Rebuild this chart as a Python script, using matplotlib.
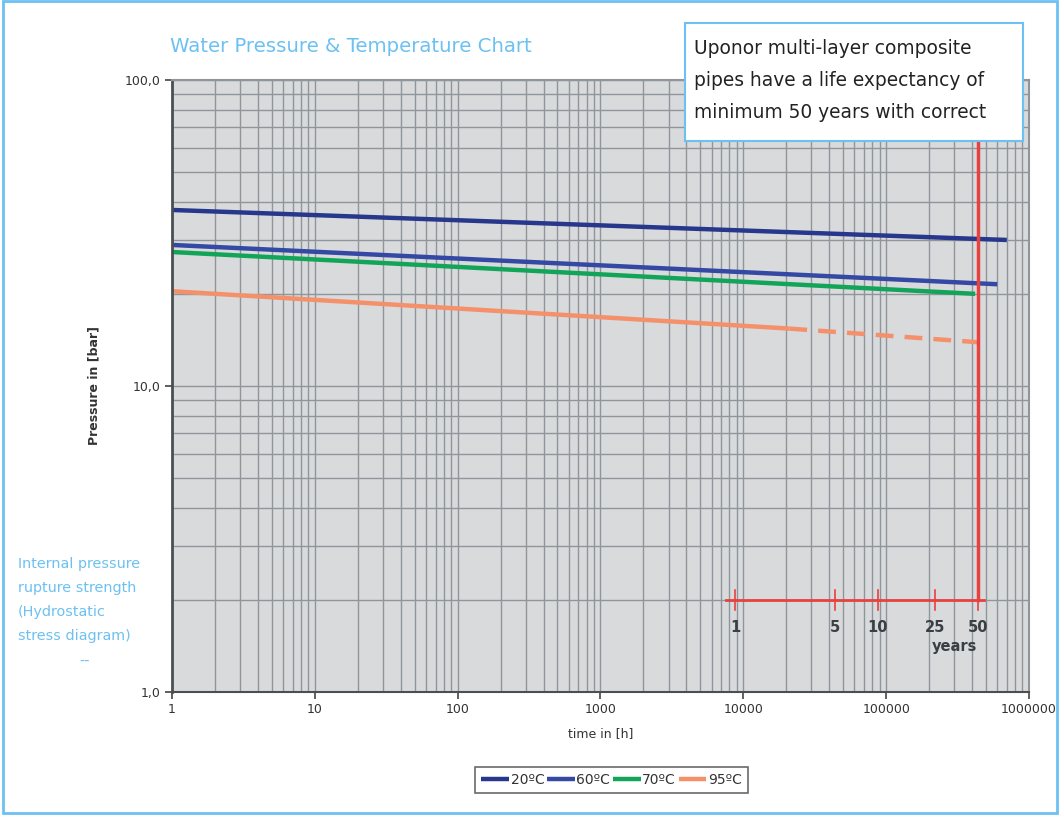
import numpy as np
import matplotlib.pyplot as plt
from matplotlib.patches import Rectangle
from matplotlib.ticker import FixedLocator, LogLocator, NullFormatter

# data (time in hours, pressure in bar)
t_20 = [1, 700000]
p_20 = [37.6, 30.0]
t_60 = [1, 600000]
p_60 = [28.9, 21.5]
t_70 = [1, 420000]
p_70 = [27.4, 20.0]
t_95_solid = [1, 21000]
p_95_solid = [20.4, 15.4]
t_95_dash = [21000, 438000]
p_95_dash = [15.4, 13.9]

years = [1, 5, 10, 25, 50]
hours_per_year = 8760
x_ticks = [1, 10, 100, 1000, 10000, 100000, 1000000]
y_ticks = [1, 10, 100]
y_tick_labels = ['1,0', '10,0', '100,0']

c_20 = '#27378c'
c_60 = '#3349a3'
c_70 = '#12a55a'
c_95 = '#f5916a'
c_red = '#e8413f'
c_blue_txt = '#6cc1f2'

fig = plt.figure(figsize=(10.61, 8.16), dpi=100)
ax = fig.add_axes([0.1621, 0.152, 0.8077, 0.750])
ax.set_xscale('log')
ax.set_yscale('log')
ax.set_xlim(1, 1000000)
ax.set_ylim(1, 100)
ax.set_facecolor('#d9dadc')

ax.xaxis.set_major_locator(FixedLocator(x_ticks))
ax.set_xticklabels([str(v) for v in x_ticks])
ax.xaxis.set_minor_locator(LogLocator(base=10, subs=np.arange(2, 10)))
ax.xaxis.set_minor_formatter(NullFormatter())
ax.yaxis.set_major_locator(FixedLocator(y_ticks))
ax.set_yticklabels(y_tick_labels)
ax.yaxis.set_minor_locator(LogLocator(base=10, subs=np.arange(2, 10)))
ax.yaxis.set_minor_formatter(NullFormatter())
ax.tick_params(which='minor', length=0)
ax.tick_params(which='major', length=5, width=1.2, color='#444444',
               labelsize=9, labelcolor='#333333', pad=3)
ax.grid(True, which='both', color='#8e969b', linewidth=1.0)
ax.set_axisbelow(True)

for s in ['top', 'right']:
    ax.spines[s].set_color('#8e969b')
    ax.spines[s].set_linewidth(1.5)
ax.spines['left'].set_color('#4a4f52')
ax.spines['left'].set_linewidth(2)
ax.spines['bottom'].set_color('#4a4f52')
ax.spines['bottom'].set_linewidth(1.5)

lw = 3.2
ax.plot(t_20, p_20, color=c_20, lw=lw, solid_capstyle='butt', label='20ºC')
ax.plot(t_60, p_60, color=c_60, lw=lw, solid_capstyle='butt', label='60ºC')
ax.plot(t_70, p_70, color=c_70, lw=lw, solid_capstyle='butt', label='70ºC')
ax.plot(t_95_solid, p_95_solid, color=c_95, lw=lw, solid_capstyle='butt', label='95ºC')
ax.plot(t_95_dash, p_95_dash, color=c_95, lw=lw, ls=(0, (4, 2.5)))

# 50 year marker and time scale in years
yr_hours = [y * hours_per_year for y in years]
ax.plot([50 * hours_per_year] * 2, [2.0, 100], color=c_red, lw=2.5, zorder=4)
ax.plot([7600, 485000], [2.0, 2.0], color=c_red, lw=2, zorder=4)
for y, h in zip(years, yr_hours):
    ax.plot([h, h], [1.85, 2.16], color=c_red, lw=1.2, zorder=4)
    ax.text(h, 1.63, str(y), ha='center', va='center', fontsize=10.5,
            fontweight='bold', color='#3a3f44')
ax.text(300000, 1.41, 'years', ha='center', va='center', fontsize=10.5,
        fontweight='bold', color='#3a3f44')

ax.set_xlabel('time in [h]', fontsize=9, color='#333333', labelpad=8)
ax.set_ylabel('Pressure in [bar]', fontsize=9, fontweight='bold',
              color='#333333', labelpad=18)

leg = ax.legend(loc='upper center', bbox_to_anchor=(0.513, -0.115), ncol=4,
                frameon=True, fancybox=False, fontsize=10, handlelength=2.0,
                handletextpad=0.1, columnspacing=0.2, borderpad=0.45,
                borderaxespad=0.3)
leg.get_frame().set_edgecolor('#444444')
leg.get_frame().set_linewidth(1.2)
for t in leg.get_texts():
    t.set_color('#333333')

fig.text(170 / 1061, 1 - 47 / 816, 'Water Pressure & Temperature Chart',
         fontsize=14.2, color=c_blue_txt, va='center', ha='left')

side = ['Internal pressure', 'rupture strength', '(Hydrostatic', 'stress diagram)']
for i, s in enumerate(side):
    fig.text(18 / 1061, 1 - (564 + i * 24) / 816, s, fontsize=10.4,
             color=c_blue_txt, va='center', ha='left')
fig.text(85 / 1061, 1 - 662 / 816, '--', fontsize=10.4, color=c_blue_txt,
         va='center', ha='center')

# note box in the top right corner
fig.patches.append(Rectangle((685 / 1061, 1 - 141 / 816), 338 / 1061, 118 / 816,
                             transform=fig.transFigure, facecolor='white',
                             edgecolor='#6cc1f2', linewidth=1.5, zorder=5))
note = ['Uponor multi-layer composite', 'pipes have a life expectancy of',
        'minimum 50 years with correct']
for i, s in enumerate(note):
    fig.text(694 / 1061, 1 - (49 + i * 32) / 816, s, fontsize=13.4,
             color='#222222', va='center', ha='left', zorder=6)

# outer frame
fig.patches.append(Rectangle((3 / 1061, 3 / 816), 1054 / 1061, 812 / 816,
                             transform=fig.transFigure, facecolor='none',
                             edgecolor='#6cc1f2', linewidth=2, zorder=1))

fig.savefig('out.png', dpi=100)
